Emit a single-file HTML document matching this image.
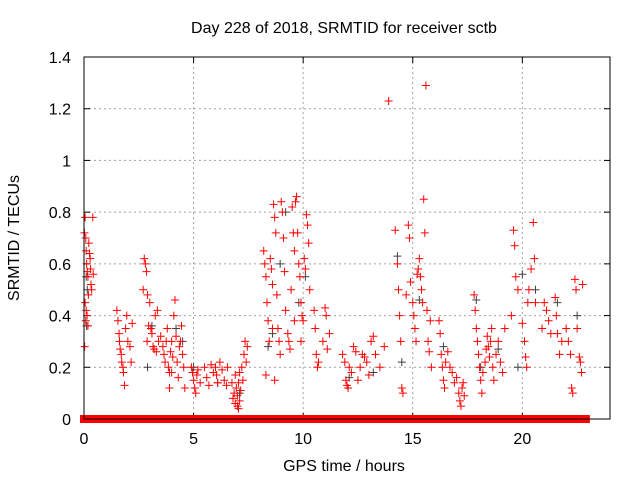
<!DOCTYPE html>
<html><head><meta charset="utf-8"><style>
body{margin:0;background:#fff}
svg{display:block;font-family:"Liberation Sans",sans-serif}
</style></head><body>
<svg id="chart" width="640" height="480">
<text x="344" y="33" text-anchor="middle" font-size="16">Day 228 of 2018, SRMTID for receiver sctb</text>
<text x="344" y="471" text-anchor="middle" font-size="16">GPS time / hours</text>
<text transform="translate(19,238) rotate(-90)" text-anchor="middle" font-size="16">SRMTID / TECUs</text>
<g id="grid"></g>
<g id="ticks"></g>
<g id="marks"></g>
<rect x="84" y="57" width="526" height="362" fill="none" stroke="#000" stroke-width="1"/>
</svg>
<script>
const xTicks=[0,5,10,15,20];
const yTicks=[0,0.2,0.4,0.6,0.8,1,1.2,1.4];
const yTickLabels=["0","0.2","0.4","0.6","0.8","1","1.2","1.4"];
const redPoints=[
[0.02,0.72],[0.05,0.78],[0.08,0.7],[0.1,0.65],[0.12,0.6],[0.15,0.57],[0.18,0.55],[0.2,0.48],[0.05,0.45],[0.1,0.42],[0.14,0.4],[0.08,0.38],[0.03,0.28],[0.25,0.64],[0.28,0.62],[0.3,0.58],[0.32,0.52],[0.35,0.5],[0.22,0.68],[0.4,0.78],[0.42,0.56],[0.18,0.36],
[1.5,0.42],[1.55,0.38],[1.6,0.33],[1.62,0.3],[1.65,0.27],[1.7,0.25],[1.72,0.22],[1.78,0.2],[1.8,0.18],[1.85,0.13],[1.9,0.35],[1.95,0.4],[2.0,0.3],[2.1,0.28],[2.2,0.37],[2.15,0.22],
[2.75,0.62],[2.8,0.6],[2.85,0.57],[2.7,0.5],[2.9,0.48],[3.0,0.45],[2.95,0.36],[3.05,0.35],[3.1,0.33],[2.88,0.3],[3.15,0.28],[3.2,0.27],[3.3,0.26],[3.25,0.4],[3.35,0.42],[3.4,0.3],
[3.5,0.32],[3.6,0.28],[3.65,0.25],[3.7,0.22],[3.75,0.3],[3.8,0.35],[3.85,0.2],[3.9,0.18],[3.95,0.26],[4.0,0.3],[4.05,0.24],[4.1,0.4],[4.15,0.46],[4.2,0.32],[4.25,0.22],[4.3,0.16],[4.35,0.28],[4.4,0.3],[4.45,0.36],[4.5,0.25],[4.55,0.2],[4.6,0.12],[3.9,0.12],[4.0,0.18],
[4.9,0.2],[4.95,0.18],[5.0,0.15],[5.05,0.12],[5.1,0.1],[5.15,0.17],[5.2,0.19],[5.3,0.14],[5.5,0.2],[5.6,0.16],[5.7,0.13],[5.8,0.21],[5.9,0.18],[6.0,0.2],[6.05,0.17],[6.1,0.14],[6.2,0.22],[6.3,0.19],[6.4,0.15],[6.5,0.13],[6.55,0.2],
[6.8,0.08],[6.85,0.1],[6.9,0.06],[6.95,0.12],[7.0,0.05],[7.0,0.09],[7.05,0.04],[7.05,0.14],[7.1,0.07],[7.1,0.18],[7.15,0.11],[7.2,0.2],[7.25,0.15],[7.3,0.25],[7.35,0.3],[7.4,0.22],[7.45,0.28],[6.75,0.14],[6.9,0.17],
[8.2,0.65],[8.25,0.6],[8.3,0.55],[8.35,0.45],[8.4,0.38],[8.45,0.3],[8.3,0.17],[8.5,0.62],[8.55,0.58],[8.6,0.52],[8.65,0.83],[8.7,0.78],[8.75,0.72],[8.8,0.48],[8.85,0.35],[8.9,0.3],[8.95,0.25],[9.0,0.84],[9.05,0.8],[9.1,0.7],[9.15,0.57],[8.7,0.15],[9.2,0.42],[8.6,0.35],
[9.3,0.33],[9.35,0.3],[9.4,0.27],[9.45,0.5],[9.5,0.82],[9.55,0.72],[9.6,0.65],[9.65,0.84],[9.7,0.86],[9.75,0.72],[9.8,0.6],[9.85,0.55],[9.9,0.45],[9.95,0.4],[10.0,0.38],[10.05,0.62],[10.1,0.58],[10.15,0.79],[10.2,0.75],[10.25,0.68],[10.3,0.5],[9.6,0.38],[9.9,0.3],
[10.5,0.42],[10.55,0.35],[10.6,0.25],[10.65,0.2],[10.7,0.22],[10.9,0.3],[11.0,0.43],[11.05,0.4],[11.1,0.27],[11.2,0.33],
[11.8,0.25],[11.9,0.22],[11.95,0.15],[12.0,0.13],[12.05,0.12],[12.1,0.2],[12.2,0.18],[12.3,0.28],[12.4,0.26],[12.5,0.15],[12.6,0.2],[12.7,0.25],[12.8,0.24],[12.9,0.22],[13.0,0.17],[13.1,0.3],[13.2,0.32],[13.3,0.25],[13.5,0.2],[13.7,0.28],
[13.9,1.23],[14.2,0.73],[14.3,0.6],[14.35,0.5],[14.4,0.4],[14.45,0.3],[14.5,0.12],[14.55,0.1],[14.7,0.48],[14.8,0.75],[14.85,0.7],[14.9,0.53],[15.0,0.45],[15.05,0.4],[15.1,0.35],[15.15,0.3],[15.2,0.56],[15.25,0.58],[15.3,0.62],[15.35,0.55],[15.4,0.5],[15.45,0.45],[15.5,0.85],[15.6,1.29],[15.55,0.72],[15.65,0.42],[15.7,0.3],[15.75,0.26],[15.8,0.38],[15.85,0.2],
[16.2,0.38],[16.25,0.33],[16.3,0.25],[16.35,0.2],[16.4,0.15],[16.45,0.12],[16.5,0.22],[16.6,0.26],[16.7,0.2],[16.8,0.18],[16.9,0.14],[17.0,0.16],
[17.1,0.1],[17.15,0.07],[17.2,0.05],[17.25,0.12],[17.3,0.14],[17.35,0.09],
[17.8,0.48],[17.85,0.42],[17.9,0.35],[17.95,0.3],[18.0,0.25],[18.05,0.2],[18.1,0.15],[18.15,0.1],[18.2,0.18],[18.3,0.22],[18.35,0.27],[18.4,0.32],[18.45,0.28],[18.5,0.24],[18.55,0.3],[18.6,0.35],[18.65,0.2],[18.7,0.15],[18.8,0.25],[18.9,0.3],[19.0,0.22],[19.1,0.18],[19.2,0.35],
[19.5,0.4],[19.6,0.73],[19.65,0.67],[19.7,0.55],[19.8,0.5],[20.0,0.37],[20.1,0.3],[20.15,0.24],[20.2,0.2],[20.25,0.45],[20.3,0.5],[20.4,0.58],[20.5,0.76],[20.55,0.62],[20.6,0.45],
[20.9,0.35],[21.0,0.45],[21.1,0.42],[21.2,0.38],[21.3,0.33],[21.5,0.47],[21.55,0.4],[21.6,0.33],[21.7,0.25],[21.8,0.3],[22.0,0.35],[22.1,0.3],[22.2,0.25],[22.25,0.12],[22.3,0.1],[22.4,0.54],[22.45,0.5],[22.5,0.35],[22.6,0.24],[22.65,0.22],[22.7,0.18],[22.75,0.52]];
const grayPoints=[[0.1,0.55],[0.15,0.5],[0.12,0.36],[2.9,0.2],[3.1,0.36],[4.2,0.35],[4.5,0.3],[5.0,0.2],[6.1,0.14],[7.1,0.1],[8.4,0.28],[8.6,0.33],[8.95,0.6],[9.2,0.8],[9.8,0.45],[10.1,0.55],[12.1,0.16],[13.2,0.18],[14.3,0.63],[14.5,0.22],[15.3,0.46],[16.4,0.28],[17.9,0.46],[18.1,0.2],[18.9,0.27],[19.8,0.2],[20.0,0.56],[20.6,0.5],[21.6,0.45],[22.5,0.4]];
const zeroSegments=[[0,1.7],[1.75,3.6],[3.7,4.5],[4.55,5.5],[5.6,6.1],[6.15,7.6],[7.7,8.6],[8.7,10.5],[10.6,15.4],[15.5,16.6],[16.7,18.2],[18.25,22.9]];
const X0=84,X1=610,Y0=419,Y1=57,XMAX=24,YMAX=1.4;
const sx=v=>X0+v/XMAX*(X1-X0), sy=v=>Y0-v/YMAX*(Y0-Y1);
const NS='http://www.w3.org/2000/svg';
const grid=document.getElementById('grid'),ticks=document.getElementById('ticks'),marks=document.getElementById('marks');
function mk(tag,a,p){const e=document.createElementNS(NS,tag);for(const k in a)e.setAttribute(k,a[k]);p.appendChild(e);return e;}
xTicks.forEach(t=>{const x=sx(t);
 if(t>0){const g=mk('line',{x1:x,x2:x,y1:Y1,y2:Y0,stroke:'#a0a0a0','stroke-dasharray':'2,3'},grid);}
 mk('line',{x1:x,x2:x,y1:Y0,y2:Y0-6,stroke:'#000'},ticks);mk('line',{x1:x,x2:x,y1:Y1,y2:Y1+6,stroke:'#000'},ticks);
 const l=mk('text',{x:x,y:Y0+25,'text-anchor':'middle','font-size':16},ticks);l.textContent=t;
 });
yTicks.forEach((t,i)=>{const y=sy(t);
 if(t>0&&t<YMAX){const g=mk('line',{x1:X0,x2:X1,y1:y,y2:y,stroke:'#a0a0a0','stroke-dasharray':'2,3'},grid);}
 mk('line',{x1:X0,x2:X0+6,y1:y,y2:y,stroke:'#000'},ticks);mk('line',{x1:X1,x2:X1-6,y1:y,y2:y,stroke:'#000'},ticks);
 const l=mk('text',{x:X0-13,y:y+6,'text-anchor':'end','font-size':16},ticks);l.textContent=yTickLabels[i];
 });
function plus(h,v,c,name){const x=sx(h),y=sy(v);
 const p=mk('path',{d:`M${x-4},${y}H${x+4}M${x},${y-4}V${y+4}`,stroke:c,'stroke-width':1,fill:'none'},marks);
 
 }
zeroSegments.forEach(s=>{const r=mk('rect',{x:sx(s[0])-4,y:sy(0)-4,width:sx(s[1])-sx(s[0])+8,height:8,fill:'#ff0000'},marks);
 
 });
grayPoints.forEach(p=>plus(p[0],p[1],'#404040','gray-point'));
redPoints.forEach(p=>plus(p[0],p[1],'#ff0000','red-point'));
const base=mk('line',{x1:X0,x2:X1,y1:Y0,y2:Y0,stroke:'#000'},marks);


</script>
</body></html>
